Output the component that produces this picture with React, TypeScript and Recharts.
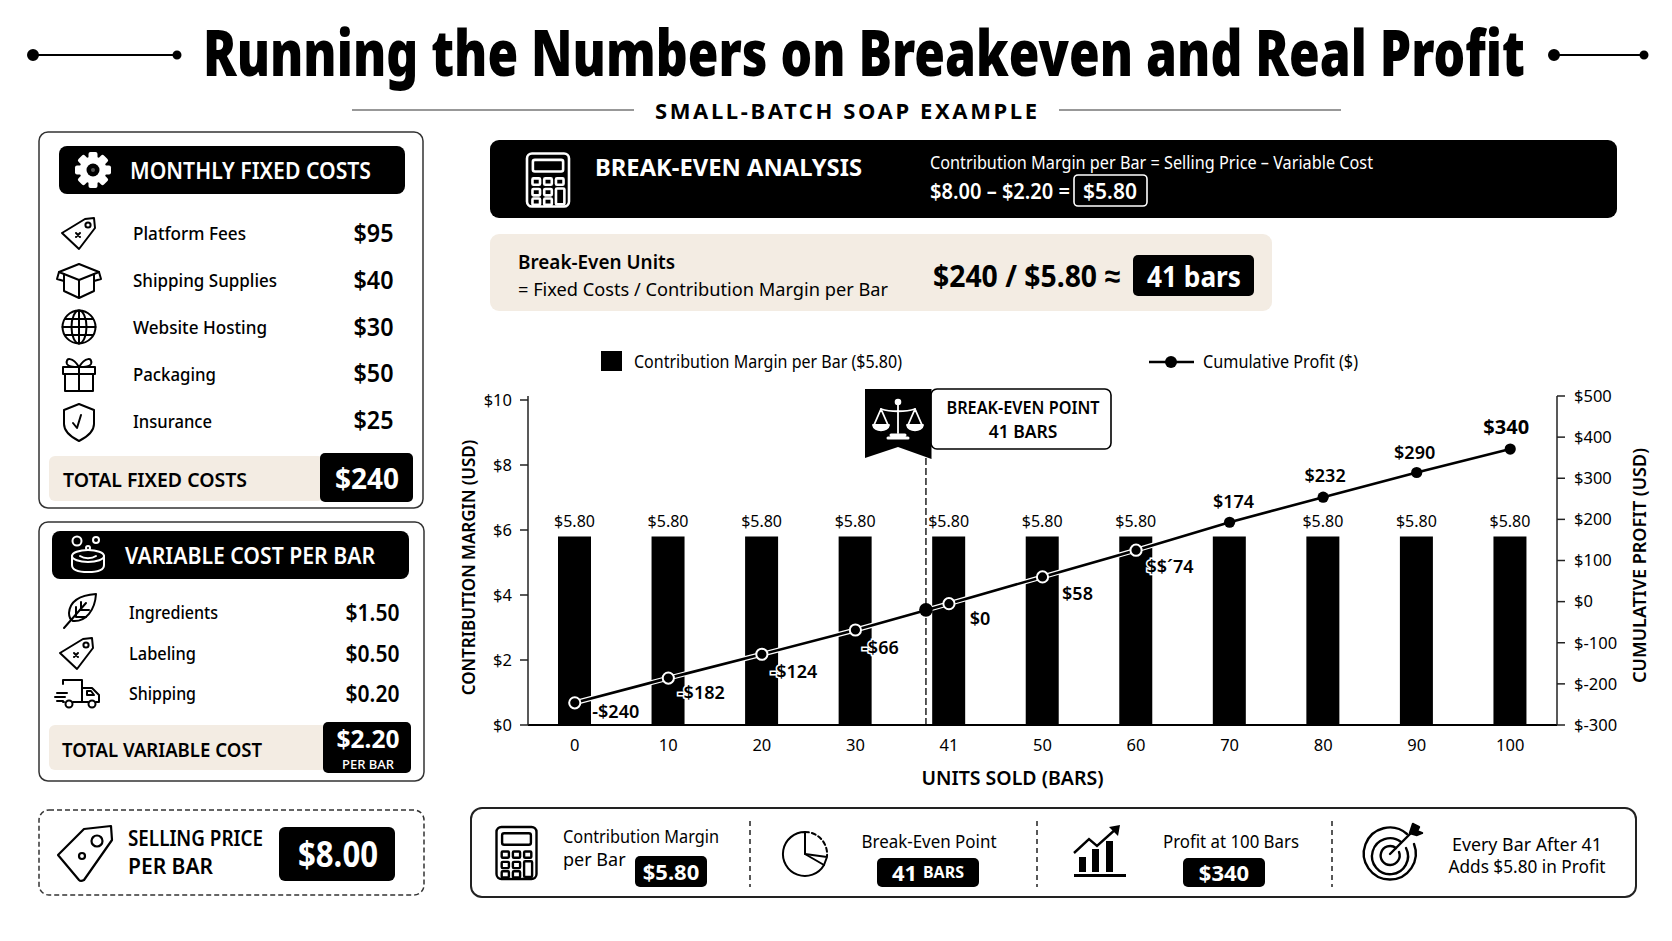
import React from "react";
import {
  Bar,
  ComposedChart,
  LabelList,
  Legend,
  Line,
  ReferenceLine,
  Scatter,
  XAxis,
  YAxis,
} from "recharts";

const units = ["0", "10", "20", "30", "41", "50", "60", "70", "80", "90", "100"];
const marginPerBar = [5.8, 5.8, 5.8, 5.8, 5.8, 5.8, 5.8, 5.8, 5.8, 5.8, 5.8];
// where the line sits against the right axis
const plottedProfit = [-246, -186, -128, -69, -5, 60, 125, 193, 254, 314, 371];
// what the picture prints next to each point
const profitLabels = ["-$240", "-$182", "-$124", "-$66", "$0", "$58", "$$´74", "$174", "$232", "$290", "$340"];
const barLabels = ["$5.80", "$5.80", "$5.80", "$5.80", "$5.80", "$5.80", "$5.80", "", "$5.80", "$5.80", "$5.80"];
const marginTicks = [0, 2, 4, 6, 8, 10];
const profitTicks = [-300, -200, -100, 0, 100, 200, 300, 400, 500];
const breakEvenDot = [{ slot: 4.254, profit: -20 }];

const fixedNames = ["Platform Fees", "Shipping Supplies", "Website Hosting", "Packaging", "Insurance"];
const fixedValues = ["$95", "$40", "$30", "$50", "$25"];
const variableNames = ["Ingredients", "Labeling", "Shipping"];
const variableValues = ["$1.50", "$0.50", "$0.20"];

const chartData = units.map((u, i) => ({
  units: u,
  margin: marginPerBar[i],
  profit: plottedProfit[i],
}));

const FONT = "'Noto Sans', sans-serif";
const INK = "#000";
const CREAM = "#f3ece3";

// label offsets from their point, in pixels
const labelNudge = [
  [41, 8], [33, 14], [32, 17], [25, 17], [31, 14], [35, 16], [34, 16],
  [4, -21], [2, -22], [-2, -20], [-4, -23],
];
// printed widths of the row names
const fixedNameWidths = [113, 144, 134, 83, 79];
const variableNameWidths = [89, 67, 67];

type TProps = {
  x: number;
  y: number;
  size: number;
  weight?: number;
  fill?: string;
  anchor?: "start" | "middle" | "end";
  w?: number;
  spaced?: boolean;
  children: React.ReactNode;
};

const T = ({ x, y, size, weight = 400, fill = INK, anchor = "start", w, spaced, children }: TProps) => (
  <text
    x={x}
    y={y}
    fontFamily={FONT}
    fontSize={size}
    fontWeight={weight}
    fill={fill}
    textAnchor={anchor}
    dominantBaseline="central"
    textLength={w}
    lengthAdjust={w ? (spaced ? "spacing" : "spacingAndGlyphs") : undefined}
  >
    {children}
  </text>
);

const Ico = ({ x, y, color = INK, sw = 2, children }: any) => (
  <g
    transform={`translate(${x} ${y})`}
    fill="none"
    stroke={color}
    strokeWidth={sw}
    strokeLinejoin="round"
    strokeLinecap="round"
  >
    {children}
  </g>
);

const Gear = ({ x, y }: any) => (
  <g transform={`translate(${x} ${y})`}>
    {[0, 45, 90, 135].map((a) => (
      <rect key={a} x={-4.5} y={-18} width={9} height={36} rx={2} fill="#fff" transform={`rotate(${a})`} />
    ))}
    <circle r={13.5} fill="#fff" />
    <circle r={6.5} fill={INK} />
    <circle r={2} fill="#555" />
  </g>
);

const SmallTag = ({ x, y }: any) => (
  <Ico x={x} y={y}>
    <path d="M-17 0 L6 -14 L15 -15 L16 -5 L0 16 Z" />
    <circle cx={9} cy={-8} r={2.6} />
    <path d="M-3 0 L1 4 M1 0 L-3 4" />
  </Ico>
);

const BoxIcon = ({ x, y }: any) => (
  <Ico x={x} y={y}>
    <path d="M0 -17 L20 -9 L0 -1 L-20 -9 Z" />
    <path d="M-15 -7 V10 L0 17 L15 10 V-7 M0 -1 V17" />
    <path d="M-20 -9 L-22 -2 L-15 0 M20 -9 L22 -2 L15 0" />
  </Ico>
);

const Globe = ({ x, y }: any) => (
  <Ico x={x} y={y}>
    <circle r={16.5} />
    <ellipse rx={7.5} ry={16.5} />
    <path d="M0 -16.5 V16.5 M-16.5 0 H16.5 M-14 -8 H14 M-14 8 H14" />
  </Ico>
);

const Gift = ({ x, y }: any) => (
  <Ico x={x} y={y}>
    <rect x={-16} y={-8} width={32} height={7} />
    <rect x={-14} y={-1} width={28} height={17} />
    <path d="M0 -8 V16" />
    <path d="M0 -8 C-6 -18 -14 -18 -12 -11 C-11 -8 -5 -8 0 -8 C6 -18 14 -18 12 -11 C11 -8 5 -8 0 -8" />
  </Ico>
);

const Shield = ({ x, y }: any) => (
  <Ico x={x} y={y}>
    <path d="M0 -18 L15 -12 V2 C15 10 8 15 0 19 C-8 15 -15 10 -15 2 V-12 Z" />
    <path d="M-6 1 L-2 6 L2 -7" />
  </Ico>
);

const Leaf = ({ x, y }: any) => (
  <Ico x={x} y={y}>
    <path d="M16 -18 C2 -17 -10 -12 -11 1 C-11 5 -9 8 -7 9 C6 10 15 -2 16 -18 Z" />
    <path d="M-16 16 L6 -9 M-4 5 H6 M-4 5 V-5 M1 -2 H9 M1 -2 V-10" />
  </Ico>
);

const Truck = ({ x, y }: any) => (
  <Ico x={x} y={y}>
    <path d="M-16 -10 V-14 H3 V8 H-6 M-15 8 H-16" />
    <path d="M3 -6 H13 L20 1 V8 H17 M9 8 H3" />
    <path d="M8 -3 H12 L15 1 H8 Z" />
    <circle cx={-10} cy={10} r={3.5} />
    <circle cx={13} cy={10} r={3.5} />
    <path d="M-22 -1 H-12 M-24 3 H-14 M-22 7 H-16" />
  </Ico>
);

const Soap = ({ x, y }: any) => (
  <Ico x={x} y={y} color="#fff">
    <circle cx={-11} cy={-13} r={4.5} />
    <circle cx={8} cy={-14} r={3} />
    <circle cx={0} cy={-6} r={2} />
    <ellipse cx={0} cy={2} rx={16} ry={6} />
    <path d="M-16 2 V11 C-16 16 -10 18 0 18 C10 18 16 16 16 11 V2" />
    <path d="M-8 2 C-4 5 4 5 8 2" />
  </Ico>
);

const BigTag = ({ x, y }: any) => (
  <Ico x={x} y={y} sw={2.2}>
    <path d="M-27 2 L-1 -24 L26 -27 L27 -13 L-1 27 C-3 28 -5 28 -6 27 Z" />
    <circle cx={12} cy={-12} r={5.5} />
    <circle cx={-3} cy={3} r={3} />
  </Ico>
);

const Calc = ({ x, y, w, h, color = INK, sw = 2.4 }: any) => {
  const cols = [-0.28, 0, 0.28];
  const rows = [0.03, 0.23, 0.41];
  return (
    <Ico x={x} y={y} color={color} sw={sw}>
      <rect x={-w / 2} y={-h / 2} width={w} height={h} rx={5} />
      <rect x={-w * 0.36} y={-h * 0.38} width={w * 0.72} height={h * 0.22} rx={2} />
      {rows.map((r) =>
        cols.map((c, i) =>
          i === 2 && r > 0.1 ? null : (
            <rect key={`${r}-${c}`} x={c * w - w * 0.09} y={r * h - h * 0.06} width={w * 0.18} height={h * 0.12} rx={1} />
          )
        )
      )}
      <rect x={w * 0.19} y={h * 0.16} width={w * 0.2} height={h * 0.3} rx={1} />
    </Ico>
  );
};

const PieIcon = ({ x, y }: any) => (
  <Ico x={x} y={y}>
    <path d="M0 -22 A22 22 0 1 0 19 11 L0 0 Z" />
    <path d="M0 -22 A22 22 0 0 1 22 2" strokeDasharray="4 3" />
    <path d="M0 0 L22 3 L19 11" />
  </Ico>
);

const Growth = ({ x, y }: any) => (
  <g transform={`translate(${x} ${y})`}>
    <rect x={-26} y={21} width={52} height={3} fill={INK} />
    <rect x={-21} y={4} width={7} height={15} fill={INK} />
    <rect x={-8} y={-4} width={7} height={23} fill={INK} />
    <rect x={6} y={-12} width={7} height={31} fill={INK} />
    <path d="M-26 0 L-11 -14 L-3 -7 L17 -25" fill="none" stroke={INK} strokeWidth={2.4} />
    <path d="M9 -26 L20 -28 L18 -17 Z" fill={INK} />
  </g>
);

const Target = ({ x, y }: any) => (
  <Ico x={x} y={y} sw={2.4}>
    <path d="M17 -20 A26 26 0 1 0 24 -10" />
    <path d="M11 -12 A18 18 0 1 0 16 -6" />
    <path d="M6 -6 A9.5 9.5 0 1 0 9 -2" />
    <path d="M0 0 L24 -24" />
    <path d="M20 -21 L23 -30 L29 -27 L27 -23 L32 -21 L27 -19 Z" fill={INK} />
  </Ico>
);

const Scales = ({ x, y }: any) => (
  <Ico x={x} y={y} color="#fff" sw={1.8}>
    <path d="M0 -17 V13 M-17 -11 C-8 -8 8 -8 17 -11" />
    <path d="M-7 15 H7 M-10 18 H10" strokeWidth={3} />
    <path d="M-17 -11 L-24 5 M-17 -11 L-10 5 M17 -11 L24 5 M17 -11 L10 5" />
    <path d="M-25 5 H-9 C-10 12 -24 12 -25 5 Z M9 5 H25 C24 12 10 12 9 5 Z" fill="#fff" />
    <circle cy={-18} r={2.4} fill="#fff" />
  </Ico>
);

const BlackBox = ({ x, y, w, h, r = 5 }: any) => <rect x={x} y={y} width={w} height={h} rx={r} fill={INK} />;

const ProfitDot = (props: any) => {
  const { cx, cy, index } = props;
  if (index > 6) return <circle key={index} cx={cx} cy={cy} r={5.6} fill={INK} />;
  return <circle key={index} cx={cx} cy={cy} r={5.6} fill={INK} stroke="#fff" strokeWidth={2} />;
};

const ProfitLabel = (props: any) => {
  const { x, y, index } = props;
  const [dx, dy] = labelNudge[index];
  const last = index === profitLabels.length - 1;
  return (
    <text
      x={x + dx}
      y={y + dy}
      textAnchor="middle"
      dominantBaseline="central"
      fontFamily={FONT}
      fontSize={last ? 20 : 18}
      fontWeight={last ? 700 : 600}
      fill={INK}
      stroke="#fff"
      strokeWidth={3}
      paintOrder="stroke"
    >
      {profitLabels[index]}
    </text>
  );
};

const BarLabel = (props: any) => {
  const { x, y, width, index } = props;
  return (
    <text
      x={x + width / 2}
      y={y - 15}
      textAnchor="middle"
      dominantBaseline="central"
      fontFamily={FONT}
      fontSize={16}
      fill={INK}
    >
      {barLabels[index]}
    </text>
  );
};

const ChartLegend = () => (
  <svg width={1000} height={40} style={{ display: "block" }}>
    <rect x={161} y={11} width={21} height={20} fill={INK} />
    <T x={194} y={21} size={18} w={268}>Contribution Margin per Bar ($5.80)</T>
    <path d="M709 22 H754" stroke={INK} strokeWidth={2.5} />
    <circle cx={731} cy={22} r={6} fill={INK} />
    <T x={763} y={21} size={18} w={155}>Cumulative Profit ($)</T>
  </svg>
);

const axisTick = { fontFamily: FONT, fontSize: 16.5, fill: INK };
const axisTitle = { fontFamily: FONT, fontSize: 17, fontWeight: 600, fill: INK, textAnchor: "middle" as const };

const App = () => (
  <div style={{ position: "absolute", left: 0, top: 0, width: 1672, height: 941, background: "#fff", overflow: "hidden" }}>
    <div style={{ position: "absolute", left: 440, top: 340 }}>
      <ComposedChart
        width={1232}
        height={460}
        data={chartData}
        margin={{ top: 16, right: 25, bottom: 35, left: 28 }}
        barCategoryGap={0}
      >
        <Legend verticalAlign="top" align="left" content={<ChartLegend />} wrapperStyle={{ left: 0, top: 0, width: 1000, height: 40 }} />
        <XAxis
          dataKey="units"
          height={40}
          tickLine={false}
          tickMargin={8}
          tick={axisTick}
          axisLine={{ stroke: INK, strokeWidth: 2 }}
          interval={0}
          label={{ value: "UNITS SOLD (BARS)", position: "bottom", offset: 6, dx: -30, style: { ...axisTitle, fontSize: 19.5 } }}
        />
        <XAxis xAxisId="slot" dataKey="slot" type="number" domain={[0, 11]} hide />
        <YAxis
          yAxisId="left"
          width={60}
          domain={[0, 10.123]}
          ticks={marginTicks}
          allowDataOverflow
          tickFormatter={(v) => `$${v}`}
          tick={axisTick}
          tickSize={8}
          tickMargin={8}
          axisLine={{ stroke: "#222", strokeWidth: 1.5 }}
          tickLine={{ stroke: "#222", strokeWidth: 1.5 }}
          label={{ value: "CONTRIBUTION MARGIN (USD)", angle: -90, position: "insideLeft", offset: 1, dy: 7, style: axisTitle }}
        />
        <YAxis
          yAxisId="right"
          orientation="right"
          width={90}
          domain={[-300, 500]}
          ticks={profitTicks}
          tickFormatter={(v) => `$${v}`}
          tick={axisTick}
          tickSize={8}
          tickMargin={9}
          axisLine={{ stroke: "#222", strokeWidth: 1.5 }}
          tickLine={{ stroke: "#222", strokeWidth: 1.5 }}
          label={{ value: "CUMULATIVE PROFIT (USD)", angle: -90, position: "insideRight", offset: 7, dy: 5, style: { ...axisTitle, fontSize: 18 } }}
        />
        <ReferenceLine xAxisId="slot" yAxisId="left" x={breakEvenDot[0].slot} stroke="#222" strokeWidth={1.5} strokeDasharray="7 3" />
        <Bar yAxisId="left" dataKey="margin" barSize={33} fill={INK} isAnimationActive={false}>
          <LabelList dataKey="margin" content={<BarLabel />} />
        </Bar>
        <Line yAxisId="right" dataKey="profit" stroke="#fff" strokeWidth={5} dot={false} activeDot={false} isAnimationActive={false} legendType="none" />
        <Line yAxisId="right" dataKey="profit" stroke={INK} strokeWidth={2.6} dot={<ProfitDot />} activeDot={false} isAnimationActive={false}>
          <LabelList dataKey="profit" content={<ProfitLabel />} />
        </Line>
        <Scatter
          xAxisId="slot"
          yAxisId="right"
          data={breakEvenDot}
          dataKey="profit"
          isAnimationActive={false}
          shape={(p: any) => <circle cx={p.cx} cy={p.cy} r={6.8} fill={INK} />}
        />
      </ComposedChart>
    </div>

    <svg width={1672} height={941} style={{ position: "absolute", left: 0, top: 0, pointerEvents: "none" }}>
      {/* title */}
      <g stroke={INK} strokeWidth={2} fill={INK}>
        <path d="M32 55 H178 M1554 55 H1644" />
        <circle cx={33} cy={55} r={5} />
        <circle cx={177} cy={55} r={3.5} />
        <circle cx={1554} cy={55} r={5} />
        <circle cx={1644} cy={55} r={3.5} />
      </g>
      <g transform="translate(203 0) scale(0.72 1)">
        <T x={0} y={51} size={64} weight={900} w={1836}>Running the Numbers on Breakeven and Real Profit</T>
      </g>
      <path d="M352 110 H634 M1059 110 H1341" stroke="#777" strokeWidth={1.5} />
      <T x={655} y={110} size={22} weight={700} w={382} spaced>SMALL-BATCH SOAP EXAMPLE</T>

      {/* fixed costs */}
      <rect x={39} y={132} width={384} height={376} rx={9} fill="none" stroke="#333" strokeWidth={1.5} />
      <BlackBox x={59} y={146} w={346} h={48} r={8} />
      <Gear x={93} y={170} />
      <T x={130} y={170} size={23} weight={600} fill="#fff" w={241}>MONTHLY FIXED COSTS</T>
      <SmallTag x={79} y={233} />
      <BoxIcon x={79} y={281} />
      <Globe x={79} y={327} />
      <Gift x={79} y={375} />
      <Shield x={79} y={422} />
      {fixedNames.map((n, i) => (
        <T key={n} x={133} y={233 + i * 47} size={18} weight={500} w={fixedNameWidths[i]}>{n}</T>
      ))}
      {fixedValues.map((v, i) => (
        <T key={v} x={393.5} y={232 + i * 46.8} size={25} weight={600} anchor="end" w={40}>{v}</T>
      ))}
      <rect x={49} y={456} width={275} height={45} rx={6} fill={CREAM} />
      <BlackBox x={320} y={453} w={93} h={49} />
      <T x={63} y={479} size={20} weight={600} w={184}>TOTAL FIXED COSTS</T>
      <T x={367} y={478} size={28} weight={700} fill="#fff" anchor="middle">$240</T>

      {/* variable cost */}
      <rect x={39} y={522} width={385} height={259} rx={9} fill="none" stroke="#333" strokeWidth={1.5} />
      <BlackBox x={52} y={531} w={357} h={48} r={8} />
      <Soap x={88} y={554} />
      <T x={125} y={555} size={23} weight={600} fill="#fff" w={250}>VARIABLE COST PER BAR</T>
      <Leaf x={80} y={612} />
      <SmallTag x={77} y={653} />
      <Truck x={79} y={694} />
      {variableNames.map((n, i) => (
        <T key={n} x={129} y={612 + i * 40.7} size={18} weight={500} w={variableNameWidths[i]}>{n}</T>
      ))}
      {variableValues.map((v, i) => (
        <T key={v} x={399.5} y={612 + i * 40.7} size={23} weight={600} anchor="end" w={54}>{v}</T>
      ))}
      <rect x={49} y={725} width={278} height={45} rx={6} fill={CREAM} />
      <BlackBox x={323} y={722} w={88} h={51} />
      <T x={62} y={749} size={20} weight={600} w={200}>TOTAL VARIABLE COST</T>
      <T x={368} y={738} size={25} weight={700} fill="#fff" anchor="middle" w={63}>$2.20</T>
      <T x={368} y={764} size={13} weight={500} fill="#fff" anchor="middle">PER BAR</T>

      {/* selling price */}
      <rect x={39} y={810} width={385} height={85} rx={10} fill="none" stroke="#333" strokeWidth={1.5} strokeDasharray="5 3" />
      <BigTag x={85} y={853} />
      <T x={128} y={838} size={21} weight={600} w={135}>SELLING PRICE</T>
      <T x={128} y={866} size={21} weight={600}>PER BAR</T>
      <BlackBox x={279} y={827} w={116} h={54} r={6} />
      <T x={338} y={853} size={36} weight={700} fill="#fff" anchor="middle" w={80}>$8.00</T>

      {/* break-even banner */}
      <BlackBox x={490} y={140} w={1127} h={78} r={9} />
      <Calc x={548} y={180} w={42} h={53} color="#fff" sw={2.6} />
      <T x={595} y={166} size={24} weight={700} fill="#fff" w={267}>BREAK-EVEN ANALYSIS</T>
      <T x={930} y={162} size={17.5} fill="#fff" w={443}>Contribution Margin per Bar = Selling Price – Variable Cost</T>
      <T x={930} y={191} size={21} weight={600} fill="#fff" w={140}>$8.00 – $2.20 =</T>
      <rect x={1074} y={175} width={73} height={31} rx={4} fill="none" stroke="#fff" strokeWidth={1.6} />
      <T x={1110} y={191} size={21} weight={600} fill="#fff" anchor="middle">$5.80</T>

      <rect x={490} y={234} width={782} height={77} rx={9} fill={CREAM} />
      <T x={518} y={261} size={19.5} weight={600} w={157}>Break-Even Units</T>
      <T x={518} y={289} size={18} w={370}>= Fixed Costs / Contribution Margin per Bar</T>
      <T x={933} y={275} size={31} weight={700} w={187}>$240 / $5.80 ≈</T>
      <BlackBox x={1133} y={255} w={121} h={41} />
      <T x={1194} y={275} size={29} weight={700} fill="#fff" anchor="middle" w={94}>41 bars</T>

      {/* callout on the chart */}
      <rect x={931} y={389} width={180} height={60} rx={6} fill="#fff" stroke={INK} strokeWidth={1.6} />
      <path d="M865 389 H931.5 V459 L898 447 L865 458 Z" fill={INK} />
      <Scales x={898} y={420} />
      <T x={1023} y={407} size={17.5} weight={600} anchor="middle" w={153}>BREAK-EVEN POINT</T>
      <T x={1023} y={431} size={17.5} weight={600} anchor="middle">41 BARS</T>

      {/* bottom strip */}
      <rect x={471} y={808} width={1165} height={89} rx={11} fill="none" stroke="#222" strokeWidth={2} />
      <path d="M750 821 V887 M1037 821 V887 M1332 821 V887" stroke="#222" strokeWidth={1.5} strokeDasharray="5 4" />
      <Calc x={516.5} y={853} w={40} h={52} />
      <T x={563} y={836} size={18} w={156}>Contribution Margin</T>
      <T x={563} y={859} size={18}>per Bar</T>
      <BlackBox x={635} y={856} w={72} h={31} />
      <T x={671} y={871} size={22} weight={700} fill="#fff" anchor="middle">$5.80</T>
      <PieIcon x={805} y={854} />
      <T x={929} y={841} size={18} anchor="middle" w={135}>Break-Even Point</T>
      <BlackBox x={877} y={858} w={102} h={29} />
      <text x={928} y={872} textAnchor="middle" dominantBaseline="central" fontFamily={FONT} fill="#fff" fontWeight={700}>
        <tspan fontSize={22}>41 </tspan>
        <tspan fontSize={16}>BARS</tspan>
      </text>
      <Growth x={1100} y={853} />
      <T x={1231} y={841} size={18} anchor="middle" w={136}>Profit at 100 Bars</T>
      <BlackBox x={1183} y={858} w={82} h={29} />
      <T x={1224} y={872} size={22} weight={700} fill="#fff" anchor="middle">$340</T>
      <Target x={1390} y={854} />
      <T x={1527} y={844} size={18} anchor="middle" w={150}>Every Bar After 41</T>
      <T x={1527} y={866} size={18} anchor="middle" w={157}>Adds $5.80 in Profit</T>
    </svg>
  </div>
);

export default App;
